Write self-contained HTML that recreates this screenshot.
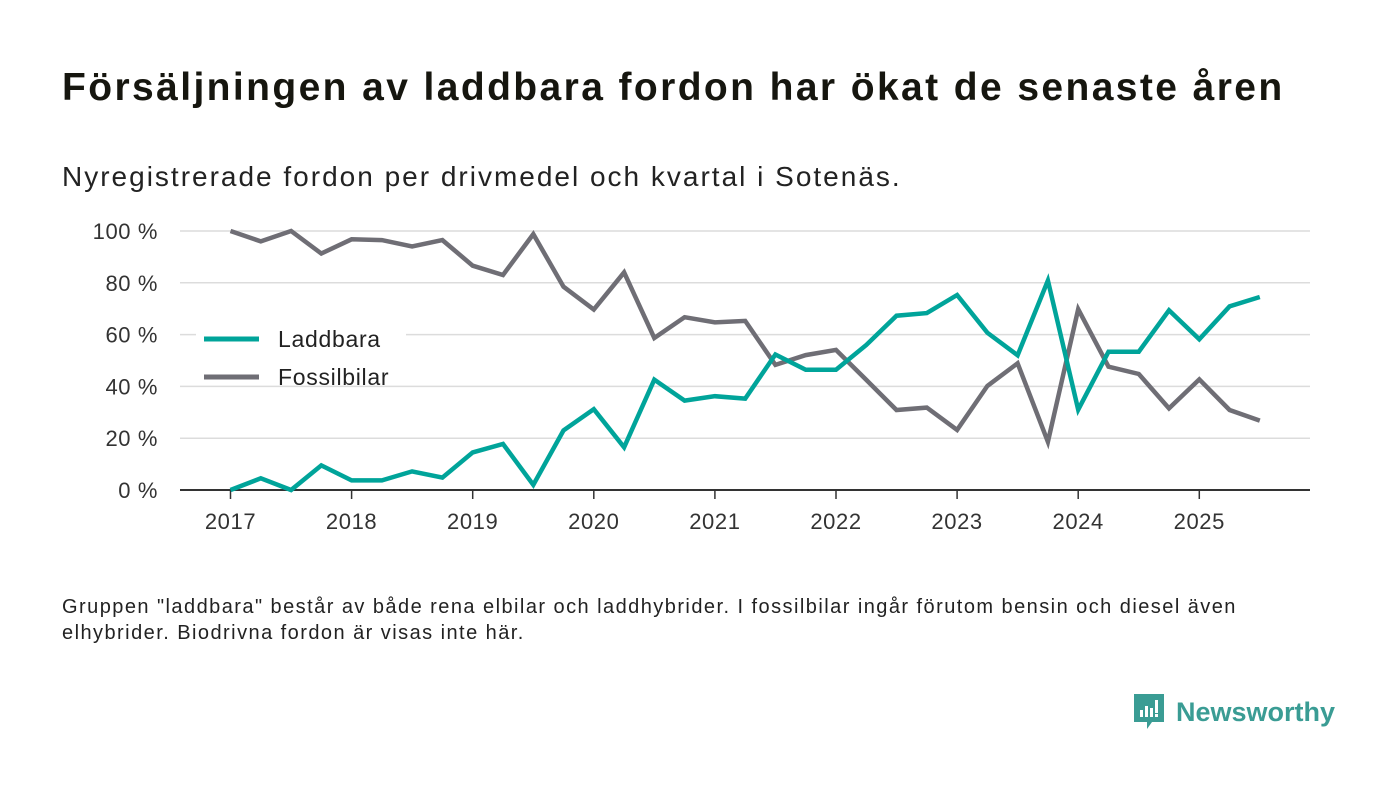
<!DOCTYPE html>
<html><head><meta charset="utf-8"><style>
body{margin:0;background:#fff;width:1400px;height:793px;overflow:hidden;font-family:"Liberation Sans",sans-serif;color:#111}
#title{position:absolute;left:62px;top:66px;font-size:39px;font-weight:bold;color:#16160f;white-space:nowrap;letter-spacing:2.4px}
#sub{position:absolute;left:62px;top:161px;font-size:28px;color:#222;white-space:nowrap;letter-spacing:2.0px}
#foot{position:absolute;left:62px;top:594px;font-size:20px;line-height:26px;color:#222;width:1260px;letter-spacing:1.45px}
#logo{position:absolute;left:1132px;top:692px;display:flex;align-items:center}
#logo span{font-size:27px;font-weight:bold;color:#3a9c94;margin-left:10px}
</style></head><body>
<div id="title">Försäljningen av laddbara fordon har ökat de senaste åren</div>
<div id="sub">Nyregistrerade fordon per drivmedel och kvartal i Sotenäs.</div>
<svg id="chart" width="1400" height="793" style="position:absolute;left:0;top:0" font-family="Liberation Sans, sans-serif"></svg>
<div id="foot">Gruppen "laddbara" består av både rena elbilar och laddhybrider. I fossilbilar ingår förutom bensin och diesel även elhybrider. Biodrivna fordon är visas inte här.</div>
<div id="logo">
<svg width="34" height="40" viewBox="0 0 34 40"><path d="M2 2h30v28h-12l-5 7v-7h-13z" fill="#3a9c94"/><rect x="8" y="18" width="3" height="7" fill="#fff"/><rect x="13" y="14" width="3" height="11" fill="#fff"/><rect x="18" y="16" width="3" height="9" fill="#fff"/><rect x="23" y="8" width="3" height="13" fill="#fff"/><rect x="23" y="22" width="3" height="3" fill="#fff"/></svg>
<span>Newsworthy</span></div>
<script>
const startYear = 2017;
const yTicks = [0,20,40,60,80,100];
const xTickYears = [2017,2018,2019,2020,2021,2022,2023,2024,2025];
const laddbara = [0,4.5,0,9.5,3.7,3.7,7.2,4.8,14.5,17.8,2,23,31.2,16.5,42.6,34.5,36.2,35.3,52.3,46.4,46.4,56,67.3,68.3,75.3,60.7,52,80.9,31,53.4,53.4,69.4,58.2,70.9,74.5];
const fossil = [100,96,100,91.3,96.8,96.5,94,96.5,86.6,83,98.8,78.5,69.7,84,58.7,66.7,64.7,65.3,48.3,52.1,54.1,42.5,30.9,31.8,23.2,40.2,48.9,18.6,69.8,47.6,44.8,31.5,42.7,30.9,26.8];
const NS="http://www.w3.org/2000/svg";
const svg=document.getElementById('chart');
const X0=180,X1=1310,Y0=490,Y1=231;
const xs=t=>230.5+(t-startYear)*121.1;
const ys=v=>Y0-(v/100)*(Y0-Y1);
function mk(tag,at){const e=document.createElementNS(NS,tag);for(const k in at)e.setAttribute(k,at[k]);svg.appendChild(e);return e;}
yTicks.forEach(v=>{
  if(v>0){const g=mk('line',{x1:X0,x2:X1,y1:ys(v),y2:ys(v),stroke:'#dcdcdc','stroke-width':1.5});
  
  }
  const t=mk('text',{x:158,y:ys(v)+8,'text-anchor':'end','font-size':22,fill:'#333','letter-spacing':0.6});t.textContent=v+' %';
  
  
});
const ax=mk('line',{x1:X0,x2:X1,y1:Y0,y2:Y0,stroke:'#333','stroke-width':2});


xTickYears.forEach(y=>{
  const tk=mk('line',{x1:xs(y),x2:xs(y),y1:Y0,y2:Y0+9,stroke:'#333','stroke-width':1.5});
  
  
  const t=mk('text',{x:xs(y),y:529,'text-anchor':'middle','font-size':22,fill:'#333','letter-spacing':0.6});t.textContent=y;
  
  
});
const lb=mk('rect',{x:196,y:322,width:210,height:58,fill:'#fff'});


function series(arr,color,name){
  const d=arr.map((v,i)=>(i?'L':'M')+xs(startYear+i/4).toFixed(1)+' '+ys(v).toFixed(1)).join(' ');
  const p=mk('path',{d:d,fill:'none',stroke:color,'stroke-width':4.5,'stroke-linejoin':'miter'});
  
  
}
series(fossil,'#6f6e75','fossilbilar-line');
series(laddbara,'#00a49a','laddbara-line');
[['Laddbara','#00a49a',339],['Fossilbilar','#6f6e75',377]].forEach(([n,c,y])=>{
  const l=mk('line',{x1:204,x2:259,y1:y,y2:y,stroke:c,'stroke-width':5});
  
  
  const t=mk('text',{x:278,y:y+8,'font-size':23,fill:'#222','letter-spacing':0.7});t.textContent=n;
  
  
});
</script>
</body></html>
